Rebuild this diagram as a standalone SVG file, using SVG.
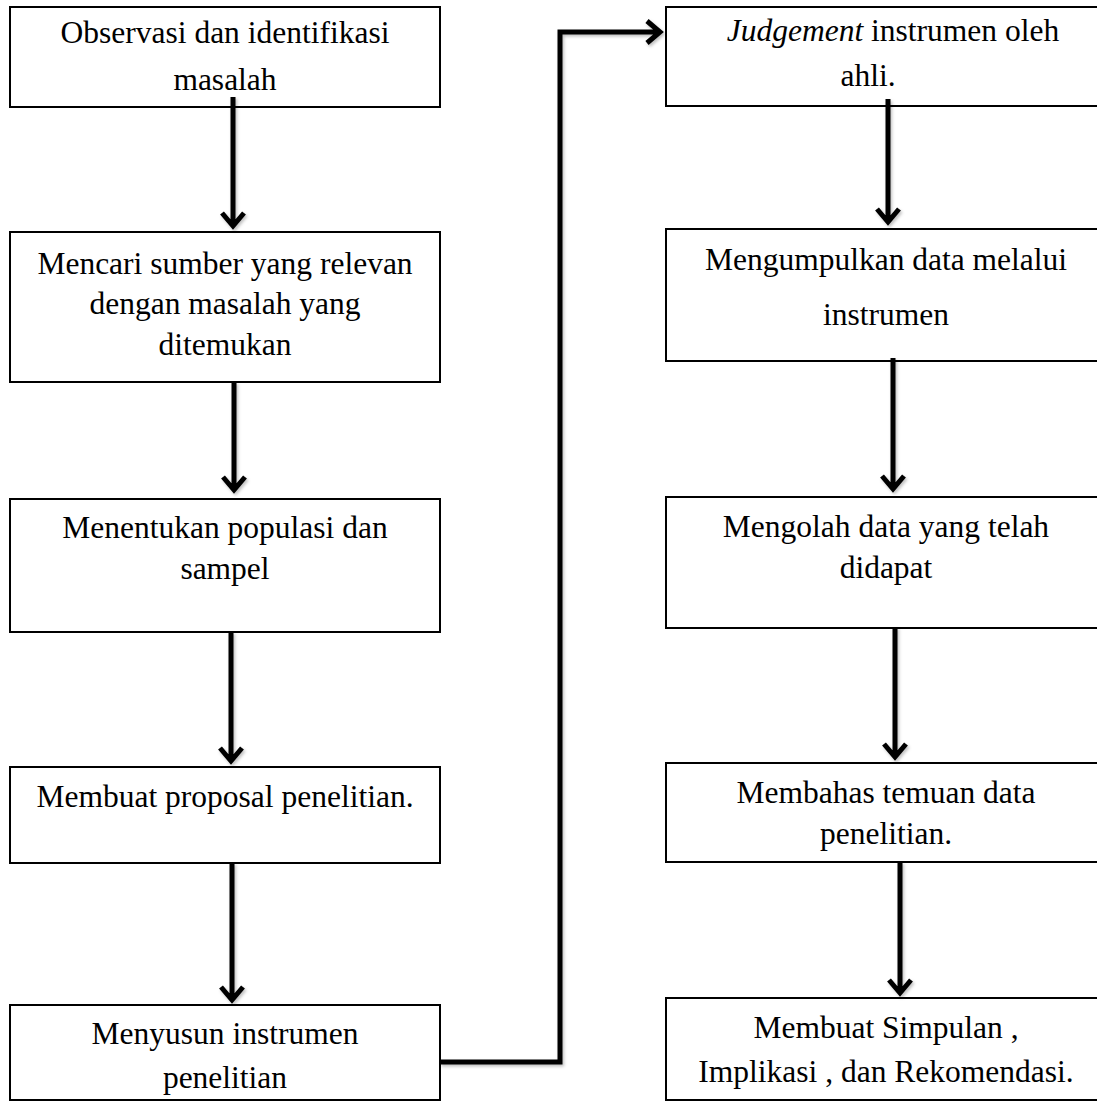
<svg xmlns="http://www.w3.org/2000/svg" width="1097" height="1101" viewBox="0 0 1097 1101">
<style>
.box{fill:#fff;stroke:#000;stroke-width:2}
.t{font-family:"Liberation Serif","Times New Roman",serif;font-size:31.5px;fill:#000;text-anchor:middle}
.ln{fill:none;stroke:#000;stroke-width:5;stroke-linejoin:miter}
</style>
<defs>
<filter id="sh" x="-20%" y="-20%" width="140%" height="140%">
<feDropShadow dx="1.5" dy="2" stdDeviation="1.5" flood-color="#000" flood-opacity="0.25"/>
</filter>
</defs>
<rect width="1097" height="1101" fill="#fff"/>
<g id="n1"><rect class="box" x="10" y="7" width="430" height="100"/><text class="t" x="225" y="43">Observasi dan identifikasi</text><text class="t" x="225" y="90">masalah</text></g>
<g id="n2"><rect class="box" x="10" y="232" width="430" height="150"/><text class="t" x="225" y="274">Mencari sumber yang relevan</text><text class="t" x="225" y="314">dengan masalah yang</text><text class="t" x="225" y="355">ditemukan</text></g>
<g id="n3"><rect class="box" x="10" y="499" width="430" height="133"/><text class="t" x="225" y="538">Menentukan populasi dan</text><text class="t" x="225" y="579">sampel</text></g>
<g id="n4"><rect class="box" x="10" y="767" width="430" height="96"/><text class="t" x="225" y="807">Membuat proposal penelitian.</text></g>
<g id="n5"><rect class="box" x="10" y="1005" width="430" height="95"/><text class="t" x="225" y="1044">Menyusun instrumen</text><text class="t" x="225" y="1088">penelitian</text></g>
<g id="n6"><rect class="box" x="666" y="7" width="440" height="99"/><text class="t" x="893" y="41"><tspan font-style="italic">Judgement</tspan> instrumen oleh</text><text class="t" x="868" y="86">ahli.</text></g>
<g id="n7"><rect class="box" x="666" y="229" width="440" height="132"/><text class="t" x="886" y="270">Mengumpulkan data melalui</text><text class="t" x="886" y="325">instrumen</text></g>
<g id="n8"><rect class="box" x="666" y="497" width="440" height="131"/><text class="t" x="886" y="537">Mengolah data yang telah</text><text class="t" x="886" y="578">didapat</text></g>
<g id="n9"><rect class="box" x="666" y="763" width="440" height="99"/><text class="t" x="886" y="803">Membahas temuan data</text><text class="t" x="886" y="844">penelitian.</text></g>
<g id="n10"><rect class="box" x="666" y="998" width="440" height="102"/><text class="t" x="886" y="1038">Membuat Simpulan ,</text><text class="t" x="886" y="1082">Implikasi , dan Rekomendasi.</text></g>
<g id="connectors" filter="url(#sh)">
<path class="ln" d="M233 97V226M222 213L233 226L244 213"/>
<path class="ln" d="M234 382V490M223 477L234 490L245 477"/>
<path class="ln" d="M231 632V761M220 748L231 761L242 748"/>
<path class="ln" d="M232 863V1000M221 987L232 1000L243 987"/>
<path class="ln" d="M440 1062H560V32H660M647 21L660 32L647 43"/>
<path class="ln" d="M888 99V222M877 209L888 222L899 209"/>
<path class="ln" d="M893 358V489M882 476L893 489L904 476"/>
<path class="ln" d="M895 627V757M884 744L895 757L906 744"/>
<path class="ln" d="M900 862V993M889 980L900 993L911 980"/>
</g>
</svg>
